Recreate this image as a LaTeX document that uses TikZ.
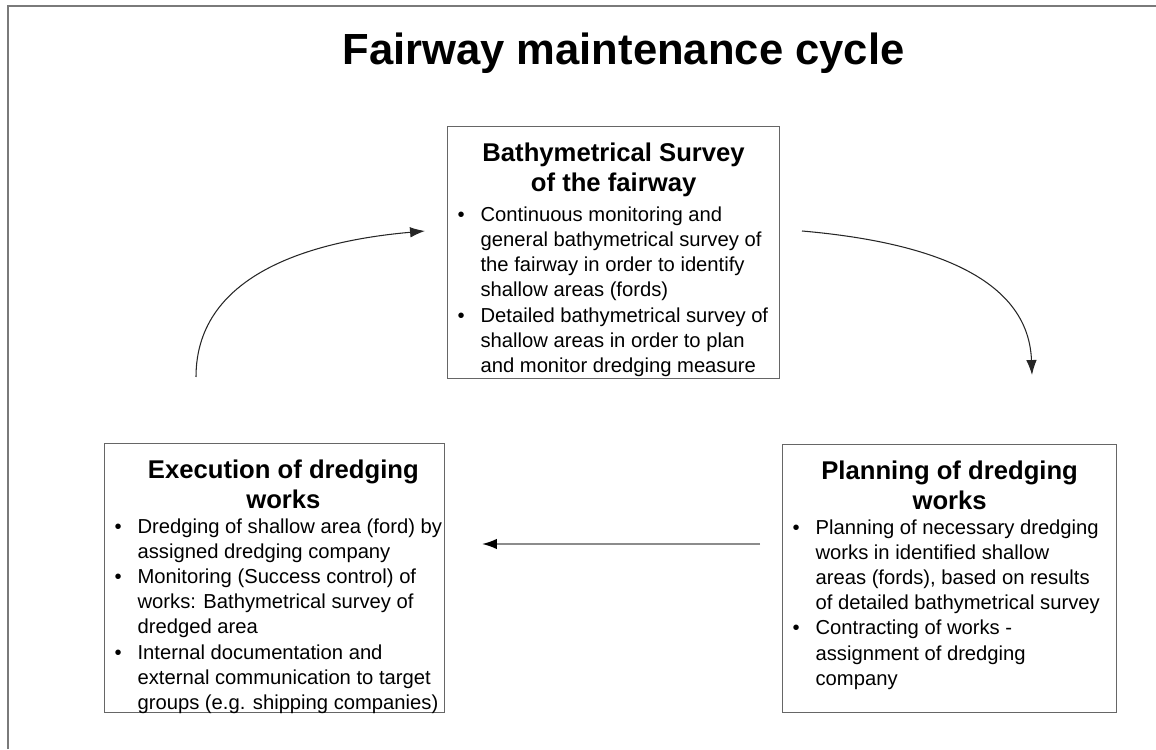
\documentclass[tikz,border=0pt]{standalone}
\usepackage{fontspec}
\setmainfont{Liberation Sans}
\usetikzlibrary{arrows.meta}
\definecolor{framegray}{HTML}{7A7A7A}
\definecolor{boxgray}{HTML}{666666}
\definecolor{linkgray}{HTML}{8C8C8C}
\tikzstyle{stagebox} = [draw=boxgray, line width=0.7pt, inner sep=0pt, anchor=north west]
\tikzstyle{cyclearrow} = [line width=0.6pt, draw=black!85, -{Latex[length=8.5pt,width=6pt]}]
\newcommand{\stagehead}[1]{{\centering\fontsize{14.6}{17}\selectfont\bfseries #1\par}}
\newcommand{\stage}[4]{\parbox[t][#2][t]{#1}{\vspace*{0.33cm}\stagehead{#3}\vspace{3pt}%
  \fontsize{11.5}{14.3}\selectfont\noindent
  \begin{tabular}{@{\hspace{0.2cm}}p{0.46cm}@{}l@{}}#4\end{tabular}}}

\begin{document}
\begin{tikzpicture}
			\useasboundingbox (0,0) rectangle (23.12,14.98);
			\draw[framegray,line width=1.1pt] (0.16,0) -- (0.16,14.86) -- (23.12,14.86);
			\node[anchor=base,font=\fontsize{24.8}{28}\selectfont\bfseries] (title) at (12.47,13.68) {Fairway maintenance cycle};
			% the three stages
			\node[stagebox] (survey) at (8.94,12.46) {\stage{6.64cm}{5.04cm}{Bathymetrical Survey\\of the fairway}{%
				\textbullet & Continuous monitoring and\\
				& general bathymetrical survey of\\
				& the fairway in order to identify\\
				& shallow areas (fords)\\
				\textbullet & Detailed bathymetrical survey of\\
				& shallow areas in order to plan\\
				& and monitor dredging measure}};
			\node[stagebox] (plan) at (15.64,6.10) {\stage{6.68cm}{5.36cm}{Planning of dredging\\works}{%
				\textbullet & Planning of necessary dredging\\
				& works in identified shallow\\
				& areas (fords), based on results\\
				& of detailed bathymetrical survey\\
				\textbullet & Contracting of works -\\
				& assignment of dredging\\
				& company}};
			\node[stagebox] (exec) at (2.08,6.12) {\stage{6.8cm}{5.38cm}{\hspace*{0.35cm}Execution of dredging\\\hspace*{0.35cm}works}{%
				\textbullet & Dredging of shallow area (ford) by\\
				& assigned dredging company\\
				\textbullet & Monitoring (Success control) of\\
				& works: Bathymetrical survey of\\
				& dredged area\\
				\textbullet & Internal documentation and\\
				& external communication to target\\
				& groups (e.g. shipping companies)}};
			% arrow ends
			\coordinate (execout) at (3.92,7.44);
			\coordinate (surveyin) at (8.5,10.36);
			\coordinate (surveyout) at (16.04,10.36);
			\coordinate (planin) at (20.64,7.48);
			\coordinate (planout) at (15.2,4.1);
			\coordinate (execin) at (9.64,4.1);
			\draw[cyclearrow] (execout) to[out=90,in=185] (surveyin);
			\draw[cyclearrow] (surveyout) to[out=-5,in=92] (planin);
			\draw[cyclearrow,draw=linkgray,line width=1pt,-{Latex[length=8.5pt,width=6pt,color=black]}] (planout) -- (execin);
		\end{tikzpicture}
\end{document}
